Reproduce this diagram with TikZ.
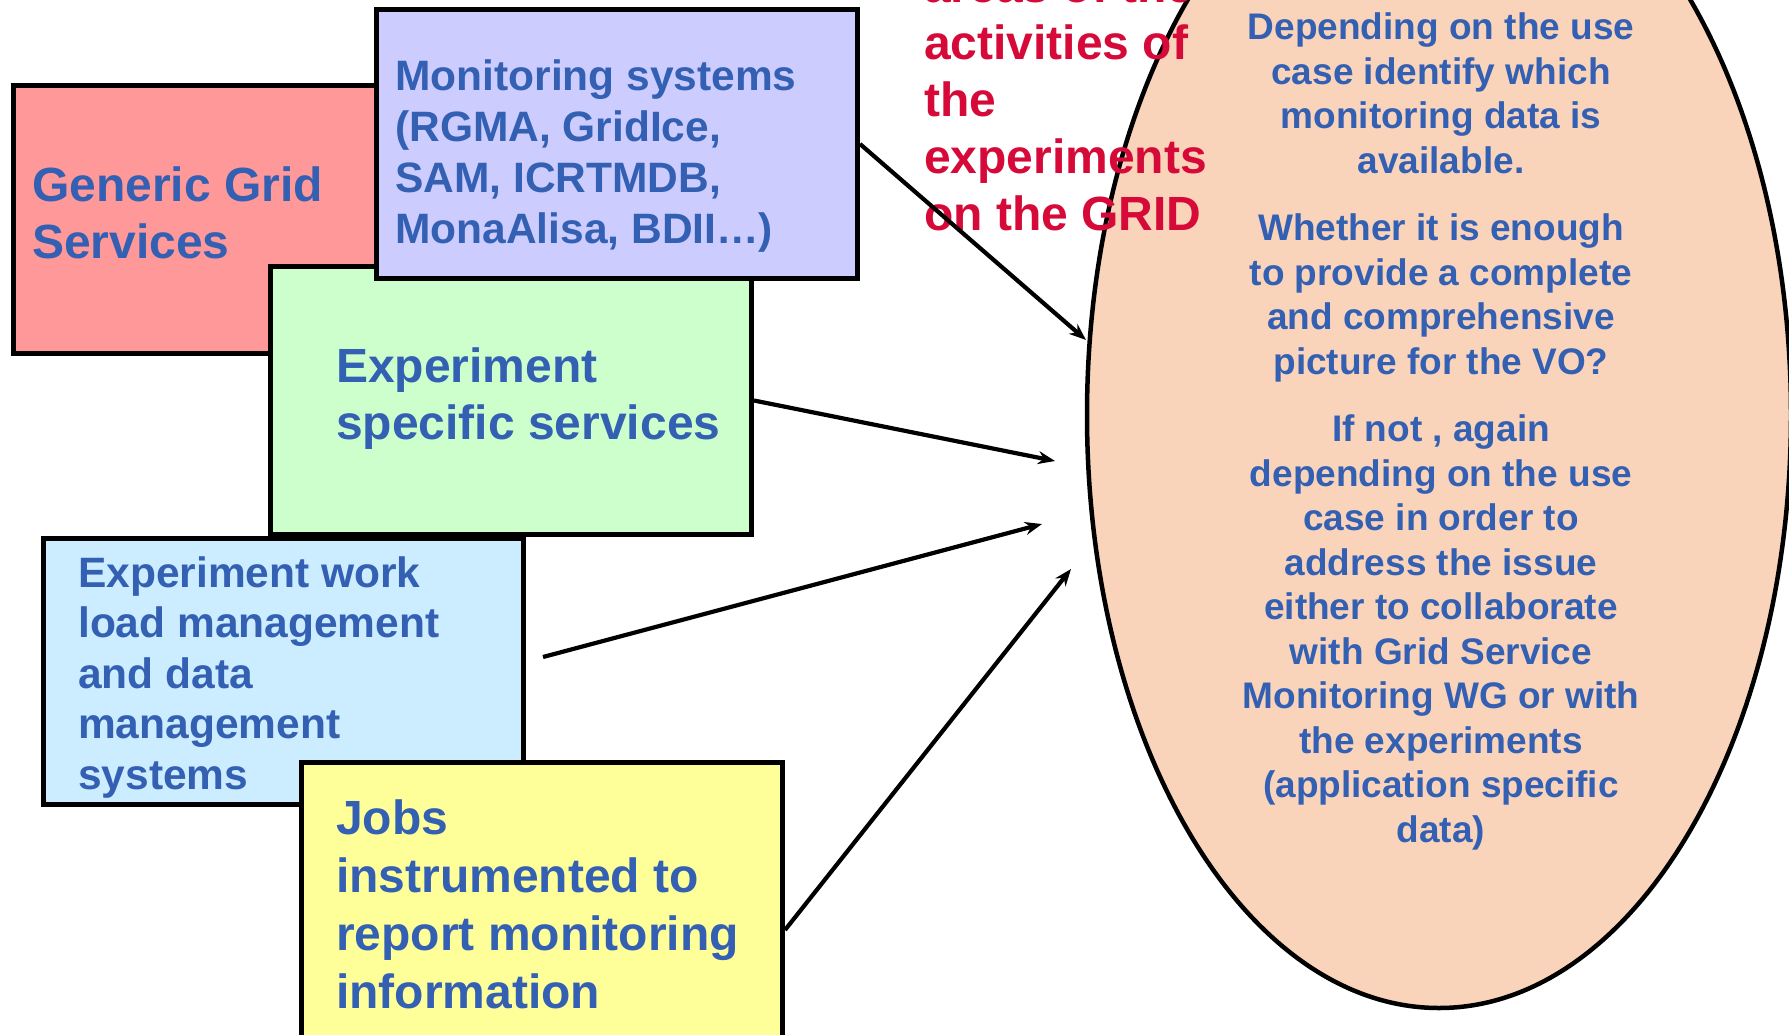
\documentclass[tikz,border=0pt]{standalone}
\usepackage{fontspec}
\setmainfont{Liberation Sans}
\usetikzlibrary{shapes.geometric,arrows.meta}
\definecolor{txtblue}{RGB}{51,96,178}
\definecolor{txtred}{RGB}{214,10,56}
\definecolor{fred}{RGB}{255,153,153}
\definecolor{fpurple}{RGB}{204,204,255}
\definecolor{fgreen}{RGB}{204,255,204}
\definecolor{fcyan}{RGB}{204,236,255}
\definecolor{fyellow}{RGB}{255,255,153}
\definecolor{fpeach}{RGB}{250,212,186}
\begin{document}
\begin{tikzpicture}[x=1pt,y=-1pt,
  box/.style={draw=black,line width=5pt,rectangle,inner sep=0pt,anchor=north west},
  bigtext/.style={anchor=base west,align=left,inner sep=0pt,text=txtblue,font=\bfseries\fontsize{48}{57}\selectfont},
  midtext/.style={anchor=base west,align=left,inner sep=0pt,text=txtblue,font=\bfseries\fontsize{42.5}{51}\selectfont},
  conn/.style={line width=4.2pt,-{Stealth[length=17pt,width=13pt]}}]
\useasboundingbox (0,0) rectangle (1789,1034);
\clip (0,0) rectangle (1789,1034);
% boxes
\node[box,fill=fred,minimum width=484pt,minimum height=268pt] (generic) at (11,83) {};
\node[box,fill=fgreen,minimum width=481pt,minimum height=268pt] (expspec) at (268,264) {};
\node[box,fill=fpurple,minimum width=481pt,minimum height=269pt] (monsys) at (374,7) {};
\node[box,fill=fcyan,minimum width=480pt,minimum height=266pt] (wms) at (41,536) {};
\node[box,fill=fyellow,minimum width=481pt,minimum height=335pt] (jobs) at (299,760) {};
% box texts (anchored at the baseline of their last line)
\node[bigtext] (genericT) at (32,258) {Generic Grid\\Services};
\node[midtext] (monsysT) at (395,243) {Monitoring systems\\(RGMA, GridIce,\\SAM, ICRTMDB,\\MonaAlisa, BDII\dots)};
\node[bigtext] (expspecT) at (336,439) {Experiment\\specific services};
\node[midtext,font=\bfseries\fontsize{42.5}{50.5}\selectfont] (wmsT) at (78,789) {Experiment work\\load management\\and data\\management\\systems};
\node[bigtext,font=\bfseries\fontsize{48}{58}\selectfont] (jobsT) at (336,1008) {Jobs\\instrumented to\\report monitoring\\information};
% ellipse
\node[ellipse,draw=black,line width=4.5pt,fill=fpeach,minimum width=704pt,minimum height=1186pt,inner sep=0pt] (goal) at (1439,415) {};
% red title
\node[anchor=base west,align=left,inner sep=0pt,text=txtred,font=\bfseries\fontsize{48}{57}\selectfont] (title) at (924,230) {areas of the\\activities of\\the\\experiments\\on the GRID};
% ellipse text
\node[anchor=base,align=center,inner sep=0pt,text=txtblue,font=\bfseries\fontsize{37}{44.5}\selectfont] (goalT) at (1441,842)
 {Depending on the use\\case identify which\\monitoring data is\\available.\\[23pt]
  Whether it is enough\\to provide a complete\\and comprehensive\\picture for the VO?\\[23pt]
  If not , again\\depending on the use\\case in order to\\address the issue\\either to collaborate\\with Grid Service\\Monitoring WG or with\\the experiments\\(application specific\\data)};
% connectors
\coordinate (t1) at (1086,340);
\coordinate (t2) at (1055,461);
\coordinate (s3) at (543,657);
\coordinate (t3) at (1042,524);
\coordinate (t4) at (1071,569);
\draw[conn] (monsys.east) -- (t1);
\draw[conn] (expspec.east) -- (t2);
\draw[conn] (s3) -- (t3);
\draw[conn] (jobs.east) -- (t4);
\end{tikzpicture}
\end{document}
